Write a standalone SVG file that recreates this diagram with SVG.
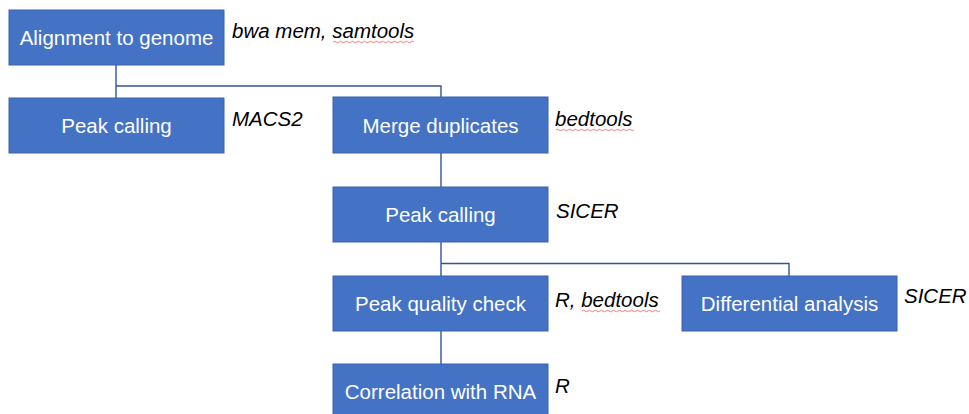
<svg xmlns="http://www.w3.org/2000/svg" width="969" height="414" viewBox="0 0 969 414">
<style>
.box{fill:#4472C4;stroke:#3A62AA;stroke-width:1}
.bt{font-family:"Liberation Sans",Arial,sans-serif;font-size:20.5px;fill:#FFFFFF;text-anchor:middle}
.lb{font-family:"Liberation Sans",Arial,sans-serif;font-size:20.5px;font-style:italic;fill:#000000}
.con{fill:none;stroke:#2F5597;stroke-width:1.4}
.sq{fill:none;stroke:#E06060;stroke-width:0.8}
</style>
<rect width="969" height="414" fill="#FFFFFF"/>
<g id="connectors">
<path class="con" d="M116,65 V98 M116,86 H441 V97"/>
<path class="con" d="M441,153 V187"/>
<path class="con" d="M441,242 V276 M441,263.5 H789 V276"/>
<path class="con" d="M441,331 V364"/>
</g>
<g id="alignment">
<rect class="box" x="9" y="10" width="215" height="55"/>
<text class="bt" x="116.5" y="45">Alignment to genome</text>
<text class="lb" x="232" y="38">bwa mem, <tspan>samtools</tspan></text>
<path class="sq" d="M333,42 q1.5,-1.5 3,0 t3,0 t3,0 t3,0 t3,0 t3,0 t3,0 t3,0 t3,0 t3,0 t3,0 t3,0 t3,0 t3,0 t3,0 t3,0 t3,0 t3,0 t3,0 t3,0 t3,0 t3,0 t3,0 t3,0 t3,0 t3,0 t3,0"/>
</g>
<g id="peak-calling-macs2">
<rect class="box" x="9" y="98" width="215" height="55"/>
<text class="bt" x="116.5" y="133">Peak calling</text>
<text class="lb" x="232" y="126">MACS2</text>
</g>
<g id="merge-duplicates">
<rect class="box" x="333" y="97" width="215" height="56"/>
<text class="bt" x="440.5" y="132.5">Merge duplicates</text>
<text class="lb" x="555" y="126">bedtools</text>
<path class="sq" d="M556,130 q1.5,-1.5 3,0 t3,0 t3,0 t3,0 t3,0 t3,0 t3,0 t3,0 t3,0 t3,0 t3,0 t3,0 t3,0 t3,0 t3,0 t3,0 t3,0 t3,0 t3,0 t3,0 t3,0 t3,0 t3,0 t3,0 t3,0 t3,0"/>
</g>
<g id="peak-calling-sicer">
<rect class="box" x="333" y="187" width="215" height="55"/>
<text class="bt" x="440.5" y="222">Peak calling</text>
<text class="lb" x="556" y="218">SICER</text>
</g>
<g id="peak-quality-check">
<rect class="box" x="333" y="276" width="215" height="55"/>
<text class="bt" x="440.5" y="311">Peak quality check</text>
<text class="lb" x="555" y="307">R, bedtools</text>
<path class="sq" d="M582,311 q1.5,-1.5 3,0 t3,0 t3,0 t3,0 t3,0 t3,0 t3,0 t3,0 t3,0 t3,0 t3,0 t3,0 t3,0 t3,0 t3,0 t3,0 t3,0 t3,0 t3,0 t3,0 t3,0 t3,0 t3,0 t3,0 t3,0 t3,0"/>
</g>
<g id="differential-analysis">
<rect class="box" x="682" y="276" width="215" height="55"/>
<text class="bt" x="789.5" y="311">Differential analysis</text>
<text class="lb" x="904" y="303">SICER</text>
</g>
<g id="correlation-with-rna">
<rect class="box" x="333" y="364" width="215" height="55"/>
<text class="bt" x="440.5" y="399">Correlation with RNA</text>
<text class="lb" x="555" y="393">R</text>
</g>
</svg>
